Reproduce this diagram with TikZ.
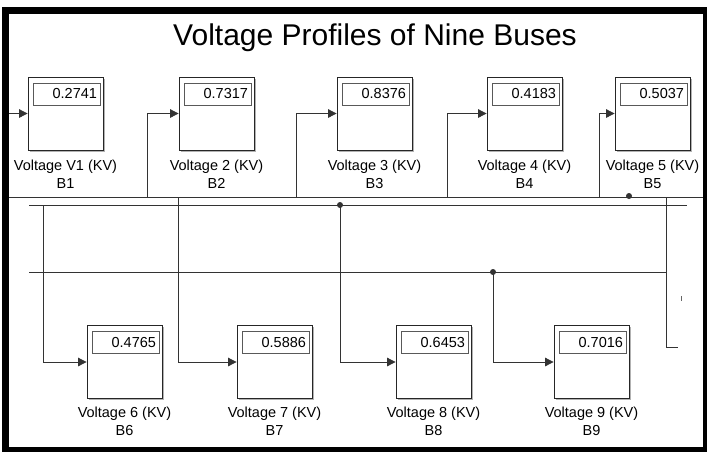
\documentclass[tikz,border=0pt]{standalone}
\usepackage{fontspec}
\setmainfont{Liberation Sans}
\usetikzlibrary{calc, arrows.meta, shadows}
\definecolor{wireColor}{HTML}{333333}

\tikzset{
  meter/.style={draw=black!85, fill=white, line width=0.8pt, minimum width=75pt,
    minimum height=73pt, inner sep=0pt,
    general shadow={fill=black!30, shadow xshift=1.6pt, shadow yshift=-1.6pt}},
  display/.style={draw=black!65, line width=0.8pt, anchor=north west, text width=61pt,
    minimum height=22pt, inner sep=3pt, align=right, font=\fontsize{14.5}{16}\selectfont},
  caption/.style={anchor=base, align=center, font=\fontsize{14.5}{18}\selectfont},
  wire/.style={draw=wireColor, line width=0.8pt},
  feed/.style={wire, -{Triangle[length=8.5pt, width=8.5pt]}}
}

\begin{document}
\begin{tikzpicture}[x=1pt, y=-1pt]
    \clip (0,0) rectangle (707,451);
    \fill[white] (0,0) rectangle (707,451);
    \draw[line width=7pt] (5.5,10.5) rectangle (706.5,450.5);
    \node[anchor=base, font=\fontsize{30}{36}\selectfont] (title) at (375,45) {Voltage Profiles of Nine Buses};

    % top row of meters
    \node[meter] (b1) at (65.5,113.5) {};
    \node[meter] (b2) at (216.5,113.5) {};
    \node[meter] (b3) at (374.5,113.5) {};
    \node[meter] (b4) at (524.5,113.5) {};
    \node[meter] (b5) at (652.5,113.5) {};
    \node[display] (d1) at ($(b1.north west)+(5,6)$) {0.2741};
    \node[display] (d2) at ($(b2.north west)+(5,6)$) {0.7317};
    \node[display] (d3) at ($(b3.north west)+(5,6)$) {0.8376};
    \node[display] (d4) at ($(b4.north west)+(5,6)$) {0.4183};
    \node[display] (d5) at ($(b5.north west)+(5,6)$) {0.5037};
    \node[caption] (l1) at ($(b1.south)+(0,38)$) {Voltage V1 (KV)\\B1};
    \node[caption] (l2) at ($(b2.south)+(0,38)$) {Voltage 2 (KV)\\B2};
    \node[caption] (l3) at ($(b3.south)+(0,38)$) {Voltage 3 (KV)\\B3};
    \node[caption] (l4) at ($(b4.south)+(0,38)$) {Voltage 4 (KV)\\B4};
    \node[caption] (l5) at ($(b5.south)+(0,38)$) {Voltage 5 (KV)\\B5};

    % bottom row of meters
    \node[meter] (b6) at (124.5,362) {};
    \node[meter] (b7) at (274.5,362) {};
    \node[meter] (b8) at (433.5,362) {};
    \node[meter] (b9) at (591.5,362) {};
    \node[display] (d6) at ($(b6.north west)+(5,6)$) {0.4765};
    \node[display] (d7) at ($(b7.north west)+(5,6)$) {0.5886};
    \node[display] (d8) at ($(b8.north west)+(5,6)$) {0.6453};
    \node[display] (d9) at ($(b9.north west)+(5,6)$) {0.7016};
    \node[caption] (l6) at ($(b6.south)+(0,37)$) {Voltage 6 (KV)\\B6};
    \node[caption] (l7) at ($(b7.south)+(0,37)$) {Voltage 7 (KV)\\B7};
    \node[caption] (l8) at ($(b8.south)+(0,37)$) {Voltage 8 (KV)\\B8};
    \node[caption] (l9) at ($(b9.south)+(0,37)$) {Voltage 9 (KV)\\B9};

    % bus lines
    \coordinate (bus1w) at (9,197);
    \coordinate (bus1e) at (703,197);
    \coordinate (bus2w) at (29,205);
    \coordinate (bus2e) at (687,205);
    \coordinate (bus3w) at (29,272);
    \coordinate (bus3e) at (667,272);
    \draw[wire] (bus1w) -- (bus1e);
    \draw[wire] (bus2w) -- (bus2e);
    \draw[wire] (bus3w) -- (bus3e);

    % taps to the meters
    \coordinate (in1) at (9,113.5);
    \coordinate (tap2) at (147,197);
    \coordinate (tap3) at (296,197);
    \coordinate (tap4) at (447,197);
    \coordinate (tap5) at (599,197);
    \coordinate (tap6) at (43,205);
    \coordinate (tap7) at (178,197);
    \coordinate (tap8) at (340,205);
    \coordinate (tap9) at (493,272);
    \draw[feed] (in1) -- (b1.west);
    \draw[feed] (tap2) |- (b2.west);
    \draw[feed] (tap3) |- (b3.west);
    \draw[feed] (tap4) |- (b4.west);
    \draw[feed] (tap5) |- (b5.west);
    \draw[feed] (tap6) |- (b6.west);
    \draw[feed] (tap7) |- (b7.west);
    \draw[feed] (tap8) |- (b8.west);
    \draw[feed] (tap9) |- (b9.west);
    \fill[wireColor] (tap8) circle (3pt);
    \fill[wireColor] (tap9) circle (3pt);
    \coordinate (dot5) at (629,196);
    \fill[wireColor] (dot5) circle (3pt);

    % loose end on the right
    \coordinate (tapR) at (666,197);
    \coordinate (endR) at (678,347);
    \draw[wire] (tapR) |- (endR);
    \coordinate (tickA) at (681,296);
    \coordinate (tickB) at (681,301);
    \draw[wire, draw=black!60] (tickA) -- (tickB);
\end{tikzpicture}
\end{document}
